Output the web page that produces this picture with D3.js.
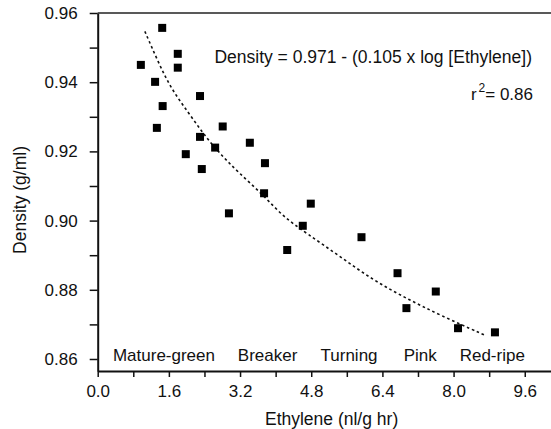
<!DOCTYPE html>
<html>
<head>
<meta charset="utf-8">
<script src="https://cdn.jsdelivr.net/npm/d3@7"></script>
<style>
  body { margin: 0; background: #fff; }
  svg text { font-family: "Liberation Sans", Arial, Helvetica, sans-serif; fill: #111; }
</style>
</head>
<body>
<div id="chart"></div>
<script>
'use strict';

// measured points: ethylene (nl/g hr) vs density (g/ml)
var ethylene = [1.45, 1.80, 0.97, 1.80, 1.29, 2.30, 1.46, 1.33, 2.81, 2.30, 2.64, 1.98, 2.34,
                2.95, 3.42, 3.76, 3.74, 4.79, 4.61, 4.26, 5.93, 6.74, 7.60, 6.94, 8.10, 8.93];
var density = [0.9557, 0.9482, 0.9450, 0.9442, 0.9401, 0.9360, 0.9331, 0.9268, 0.9272, 0.9242,
               0.9211, 0.9192, 0.9149, 0.9021, 0.9225, 0.9166, 0.9079, 0.9049, 0.8985, 0.8915,
               0.8952, 0.8848, 0.8795, 0.8747, 0.8689, 0.8677];

// regression curve as drawn
var fitX = [1.06, 1.36, 1.65, 2.03, 2.40, 2.78, 3.15, 3.72, 4.17, 4.70, 5.45, 6.19, 6.94, 7.69, 8.70];
var fitY = [0.9547, 0.9458, 0.9381, 0.9314, 0.9246, 0.9189, 0.9141, 0.9074, 0.9011, 0.8963,
            0.8896, 0.8828, 0.8775, 0.8727, 0.8669];

var stages = ["Mature-green", "Breaker", "Turning", "Pink", "Red-ripe"];
var stageX = [1.49, 3.82, 5.65, 7.25, 8.87];

var xTicks = [0, 0.8, 1.6, 2.4, 3.2, 4.0, 4.8, 5.6, 6.4, 7.2, 8.0, 8.8, 9.6];
var yTicks = [0.86, 0.87, 0.88, 0.89, 0.90, 0.91, 0.92, 0.93, 0.94, 0.95, 0.96];

var chartWidth = 551,
    chartHeight = 429,
    margin = {top: 13, right: 0, bottom: 58, left: 97.7};

var svg = d3.select("#chart").append("svg")
    .attr("width", chartWidth)
    .attr("height", chartHeight);

var x = d3.scaleLinear().domain([0, 10.19]).range([margin.left, chartWidth - margin.right]),
    y = d3.scaleLinear().domain([0.85653, 0.96]).range([chartHeight - margin.bottom, margin.top]);

var fs = 17;

// x axis
var xAxis = d3.axisBottom(x)
    .tickValues(xTicks)
    .tickSize(6)
    .tickSizeOuter(0)
    .tickFormat(function(d, i) { return i % 2 === 0 ? d3.format(".1f")(d) : ""; });

var gx = svg.append("g")
    .attr("transform", "translate(0," + y.range()[0] + ")")
    .call(xAxis);
gx.select(".domain").attr("stroke", "#111").attr("stroke-width", 2);
gx.selectAll(".tick line").attr("stroke", "#111").attr("stroke-width", 1.5);
gx.selectAll(".tick text").attr("font-size", fs).attr("dy", "1.0em").attr("fill", "#111");

// y axis
var yAxis = d3.axisLeft(y)
    .tickValues(yTicks)
    .tickSize(8)
    .tickSizeOuter(0)
    .tickFormat(function(d, i) { return i % 2 === 0 ? d3.format(".2f")(d) : ""; });

var gy = svg.append("g")
    .attr("transform", "translate(" + margin.left + ",0)")
    .call(yAxis);
gy.select(".domain").attr("stroke", "#111").attr("stroke-width", 2);
gy.selectAll(".tick line").attr("stroke", "#111").attr("stroke-width", 1.5);
gy.selectAll(".tick text").attr("font-size", fs).attr("x", -20).attr("fill", "#111");

// top frame line
svg.append("line")
    .attr("x1", x.range()[0]).attr("x2", x.range()[1])
    .attr("y1", y(0.96)).attr("y2", y(0.96))
    .attr("stroke", "#222")
    .attr("stroke-width", 1.5);

// regression curve
var curvePts = fitX.map(function(d, i) { return [d, fitY[i]]; });
svg.append("path")
    .datum(curvePts)
    .attr("fill", "none")
    .attr("stroke", "#111")
    .attr("stroke-width", 1.6)
    .attr("stroke-dasharray", "2.6,2.8")
    .attr("d", d3.line()
        .x(function(d) { return x(d[0]); })
        .y(function(d) { return y(d[1]); })
        .curve(d3.curveBasis));

// points
var pts = ethylene.map(function(d, i) { return {e: d, dens: density[i]}; });
var sq = 8;
svg.selectAll(".pt")
    .data(pts)
    .enter().append("rect")
      .attr("class", "pt")
      .attr("x", function(d) { return x(d.e) - sq / 2; })
      .attr("y", function(d) { return y(d.dens) - sq / 2; })
      .attr("width", sq)
      .attr("height", sq)
      .attr("fill", "#000");

// stage labels
svg.selectAll(".stage")
    .data(stages)
    .enter().append("text")
      .attr("class", "stage")
      .attr("x", function(d, i) { return x(stageX[i]); })
      .attr("y", 361)
      .attr("text-anchor", "middle")
      .attr("font-size", fs)
      .text(function(d) { return d; });

// equation
svg.append("text")
    .attr("x", 532)
    .attr("y", 63)
    .attr("text-anchor", "end")
    .attr("font-size", 17.5)
    .text("Density = 0.971 - (0.105 x log [Ethylene])");

var r2 = svg.append("text")
    .attr("x", 533)
    .attr("y", 100)
    .attr("text-anchor", "end")
    .attr("font-size", fs);
r2.append("tspan").text("r");
r2.append("tspan").attr("font-size", 12).attr("dx", 2).attr("dy", -8).text("2");
r2.append("tspan").attr("dy", 8).text("= 0.86");

// axis titles
svg.append("text")
    .attr("x", 331.6)
    .attr("y", 425)
    .attr("text-anchor", "middle")
    .attr("font-size", 17.5)
    .text("Ethylene (nl/g hr)");

svg.append("text")
    .attr("transform", "translate(26,200) rotate(-90)")
    .attr("text-anchor", "middle")
    .attr("font-size", 17.5)
    .text("Density (g/ml)");
</script>
</body>
</html>
